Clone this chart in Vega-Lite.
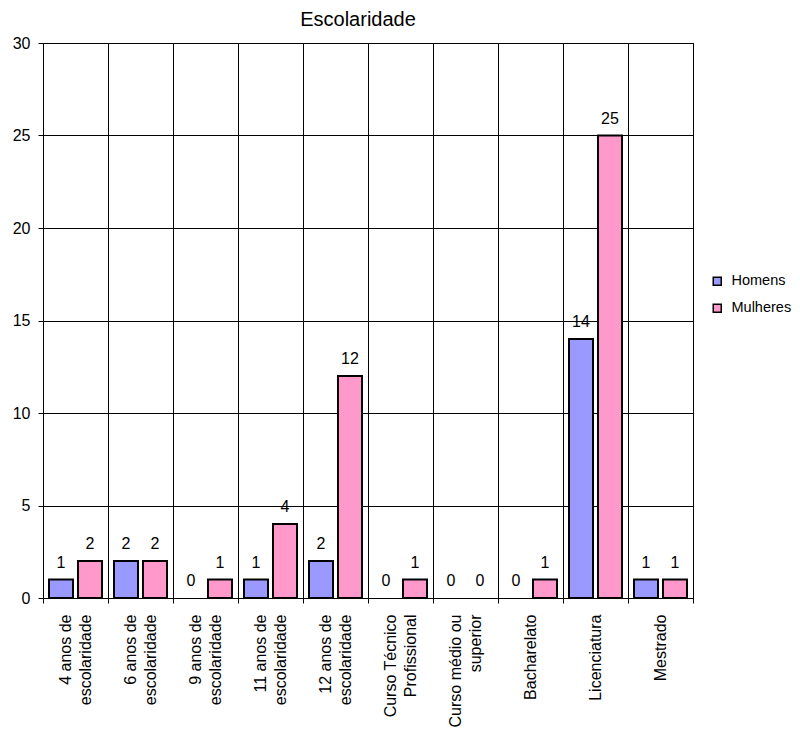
{
  "$schema": "https://vega.github.io/schema/vega-lite/v6.json",
  "width": 650,
  "height": 555,
  "autosize": {"type": "none"},
  "padding": {"left": 43, "top": 43, "right": 107, "bottom": 132},
  "background": "white",
  "title": {
    "text": "Escolaridade",
    "frame": "group",
    "anchor": "middle",
    "dx": -10,
    "offset": 5,
    "fontSize": 20,
    "fontWeight": "normal",
    "font": "Liberation Sans",
    "color": "black"
  },
  "data": {
    "values": [
      {"categoria": "4 anos de|escolaridade", "sexo": "Homens", "valor": 1},
      {"categoria": "4 anos de|escolaridade", "sexo": "Mulheres", "valor": 2},
      {"categoria": "6 anos de|escolaridade", "sexo": "Homens", "valor": 2},
      {"categoria": "6 anos de|escolaridade", "sexo": "Mulheres", "valor": 2},
      {"categoria": "9 anos de|escolaridade", "sexo": "Homens", "valor": 0},
      {"categoria": "9 anos de|escolaridade", "sexo": "Mulheres", "valor": 1},
      {"categoria": "11 anos de|escolaridade", "sexo": "Homens", "valor": 1},
      {"categoria": "11 anos de|escolaridade", "sexo": "Mulheres", "valor": 4},
      {"categoria": "12 anos de|escolaridade", "sexo": "Homens", "valor": 2},
      {"categoria": "12 anos de|escolaridade", "sexo": "Mulheres", "valor": 12},
      {"categoria": "Curso Técnico|Profissional", "sexo": "Homens", "valor": 0},
      {"categoria": "Curso Técnico|Profissional", "sexo": "Mulheres", "valor": 1},
      {"categoria": "Curso médio ou|superior", "sexo": "Homens", "valor": 0},
      {"categoria": "Curso médio ou|superior", "sexo": "Mulheres", "valor": 0},
      {"categoria": "Bacharelato", "sexo": "Homens", "valor": 0},
      {"categoria": "Bacharelato", "sexo": "Mulheres", "valor": 1},
      {"categoria": "Licenciatura", "sexo": "Homens", "valor": 14},
      {"categoria": "Licenciatura", "sexo": "Mulheres", "valor": 25},
      {"categoria": "Mestrado", "sexo": "Homens", "valor": 1},
      {"categoria": "Mestrado", "sexo": "Mulheres", "valor": 1}
    ]
  },
  "encoding": {
    "x": {
      "field": "categoria",
      "type": "nominal",
      "sort": [
        "4 anos de|escolaridade",
        "6 anos de|escolaridade",
        "9 anos de|escolaridade",
        "11 anos de|escolaridade",
        "12 anos de|escolaridade",
        "Curso Técnico|Profissional",
        "Curso médio ou|superior",
        "Bacharelato",
        "Licenciatura",
        "Mestrado"
      ],
      "scale": {"paddingInner": 0, "paddingOuter": 0},
      "axis": {
        "title": null,
        "grid": true,
        "gridColor": "black",
        "gridWidth": 1,
        "tickBand": "extent",
        "tickColor": "black",
        "tickSize": 5,
        "domainColor": "black",
        "labelExpr": "split(datum.label, '|')",
        "labelAngle": -90,
        "labelAlign": "right",
        "labelBaseline": "middle",
        "labelLineHeight": 20,
        "labelFontSize": 16,
        "labelFont": "Liberation Sans",
        "labelColor": "black",
        "labelPadding": 11,
        "labelOffset": {"condition": {"test": "indexof(datum.label, '|') >= 0", "value": -10}, "value": 0},
        "labelOverlap": false,
        "labelLimit": 300
      }
    },
    "xOffset": {
      "field": "sexo",
      "type": "nominal",
      "sort": ["Homens", "Mulheres"],
      "scale": {"paddingInner": 0.172, "paddingOuter": 0.207}
    },
    "y": {
      "field": "valor",
      "type": "quantitative",
      "scale": {"domain": [0, 30], "nice": false},
      "axis": {
        "title": null,
        "values": [0, 5, 10, 15, 20, 25, 30],
        "grid": true,
        "gridColor": "black",
        "gridWidth": 1,
        "tickColor": "black",
        "tickSize": 5,
        "domainColor": "black",
        "labelFontSize": 16,
        "labelFont": "Liberation Sans",
        "labelColor": "black",
        "labelPadding": 8
      }
    }
  },
  "layer": [
    {
      "transform": [{"filter": "datum.valor > 0"}],
      "mark": {"type": "bar", "stroke": "black", "strokeWidth": 2},
      "encoding": {
        "color": {
          "field": "sexo",
          "type": "nominal",
          "sort": ["Homens", "Mulheres"],
          "scale": {"domain": ["Homens", "Mulheres"], "range": ["#9999FF", "#FF99CC"]},
          "legend": {
            "title": null,
            "orient": "none",
            "legendX": 667,
            "legendY": 231,
            "padding": 0,
            "symbolType": "square",
            "symbolSize": 64,
            "symbolStrokeColor": "black",
            "symbolStrokeWidth": 1.5,
            "labelFontSize": 14.5,
            "labelFont": "Liberation Sans",
            "labelColor": "black",
            "labelOffset": 7,
            "rowPadding": 11
          }
        }
      }
    },
    {
      "mark": {
        "type": "text",
        "baseline": "alphabetic",
        "dy": -12,
        "fontSize": 16,
        "font": "Liberation Sans",
        "color": "black"
      },
      "encoding": {
        "text": {"field": "valor", "type": "quantitative"}
      }
    }
  ],
  "config": {
    "font": "Liberation Sans",
    "view": {"stroke": "black", "strokeWidth": 1}
  }
}
